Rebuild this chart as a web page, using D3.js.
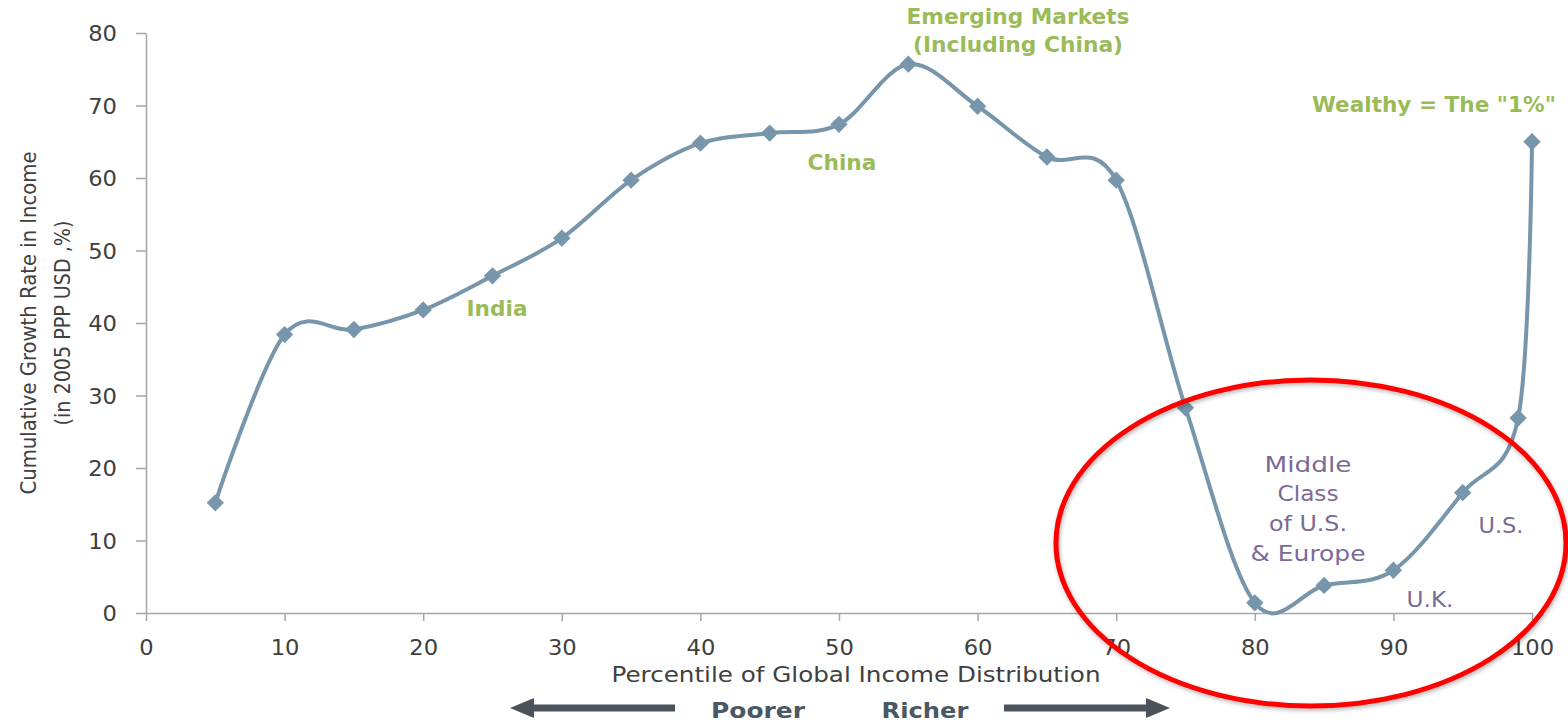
<!DOCTYPE html>
<html lang="en">
<head>
<meta charset="UTF-8">
<title>Global income growth by percentile</title>
<style>
  body { margin: 0; background: #fff; }
  text { font-family: "DejaVu Sans", Verdana, sans-serif; }
</style>
</head>
<body>
<script src="https://d3js.org/d3.v7.min.js"></script>
<script>
    // percentile of global income distribution, cumulative growth (%)
    var percentile = [5, 10, 15, 20, 25, 30, 35, 40, 45, 50, 55, 60, 65, 70, 75, 80, 85, 90, 95, 99, 100];
    var growth = [15.2, 38.4, 39.1, 41.8, 46.5, 51.7, 59.7, 64.8, 66.2, 67.4, 75.7, 69.9, 62.9, 59.7, 28.3, 1.4, 3.8, 5.9, 16.6, 26.9, 65];
    var xTicks = [0, 10, 20, 30, 40, 50, 60, 70, 80, 90, 100];
    var yTicks = [0, 10, 20, 30, 40, 50, 60, 70, 80];

    var width = 1568, height = 722;

    var x = d3.scaleLinear().domain([0, 100]).range([146, 1532]);
    var y = d3.scaleLinear().domain([0, 80]).range([613, 33]);

    var svg = d3.select('body').append('svg')
        .attr('width', width)
        .attr('height', height);

    var defs = svg.append('defs');
    var shadow = defs.append('filter').attr('id', 'shadow')
        .attr('x', '-10%').attr('y', '-10%').attr('width', '120%').attr('height', '120%');
    shadow.append('feDropShadow')
        .attr('dx', 1).attr('dy', 2).attr('stdDeviation', 2)
        .attr('flood-color', '#000').attr('flood-opacity', 0.3);

    var axisColor = '#a6a6a6';

    // y axis
    var yAxis = svg.append('g')
        .attr('transform', 'translate(' + x(0) + ',0)')
        .call(d3.axisLeft(y).tickValues(yTicks).tickSize(10).tickPadding(19).tickSizeOuter(0));
    // x axis
    var xAxis = svg.append('g')
        .attr('transform', 'translate(0,' + y(0) + ')')
        .call(d3.axisBottom(x).tickValues(xTicks).tickSize(8).tickPadding(18).tickSizeOuter(0));

    [xAxis, yAxis].forEach(function(a) {
        a.select('.domain').attr('stroke', axisColor).attr('stroke-width', 1.5);
        a.selectAll('.tick line').attr('stroke', axisColor).attr('stroke-width', 1.5);
        a.selectAll('.tick text')
            .attr('fill', '#404040')
            .style('font-size', '21px')
            .attr('textLength', function(d) { return String(d).length * 14.4; })
            .attr('lengthAdjust', 'spacingAndGlyphs');
    });
    yAxis.selectAll('.tick text').attr('dy', '0.36em');
    xAxis.selectAll('.tick text').attr('dy', '0.75em');

    // axis titles
    svg.append('text')
        .attr('transform', 'translate(36,323) rotate(-90)')
        .attr('text-anchor', 'middle')
        .attr('fill', '#404040')
        .style('font-size', '22px')
        .attr('textLength', 343).attr('lengthAdjust', 'spacingAndGlyphs')
        .text('Cumulative Growth Rate in Income');
    svg.append('text')
        .attr('transform', 'translate(70,323) rotate(-90)')
        .attr('text-anchor', 'middle')
        .attr('fill', '#404040')
        .style('font-size', '22px')
        .attr('textLength', 205).attr('lengthAdjust', 'spacingAndGlyphs')
        .text('(in 2005 PPP USD ,%)');
    svg.append('text')
        .attr('x', 856).attr('y', 682)
        .attr('text-anchor', 'middle')
        .attr('fill', '#404040')
        .style('font-size', '21px')
        .attr('textLength', 489).attr('lengthAdjust', 'spacingAndGlyphs')
        .text('Percentile of Global Income Distribution');

    // poorer / richer arrows
    var arrowColor = '#4b545c';
    function arrow(x1, x2, yy) {
        var dir = x2 > x1 ? 1 : -1;
        var head = 24;
        svg.append('line')
            .attr('x1', x1).attr('y1', yy)
            .attr('x2', x2 - dir * head + dir * 2).attr('y2', yy)
            .attr('stroke', arrowColor).attr('stroke-width', 7);
        svg.append('path')
            .attr('d', 'M' + x2 + ',' + yy + 'L' + (x2 - dir * head) + ',' + (yy - 10) +
                       'L' + (x2 - dir * head) + ',' + (yy + 10) + 'Z')
            .attr('fill', arrowColor);
    }
    arrow(675, 510, 708);
    arrow(1004, 1170, 708);
    svg.append('text').attr('x', 758).attr('y', 718).attr('text-anchor', 'middle')
        .attr('fill', '#4a5866').style('font-size', '22px').style('font-weight', 'bold')
        .attr('textLength', 94).attr('lengthAdjust', 'spacingAndGlyphs')
        .text('Poorer');
    svg.append('text').attr('x', 925).attr('y', 718).attr('text-anchor', 'middle')
        .attr('fill', '#4a5866').style('font-size', '22px').style('font-weight', 'bold')
        .attr('textLength', 87).attr('lengthAdjust', 'spacingAndGlyphs')
        .text('Richer');

    // series line
    var points = percentile.map(function(p, i) { return [p, growth[i]]; });
    var line = d3.line()
        .x(function(d) { return x(d[0]); })
        .y(function(d) { return y(d[1]); })
        .curve(d3.curveCardinal.tension(0));

    var lineColor = '#7796ab';
    svg.append('path')
        .datum(points)
        .attr('d', line)
        .attr('fill', 'none')
        .attr('stroke', lineColor)
        .attr('stroke-width', 4);

    svg.append('g').selectAll('path')
        .data(points)
      .enter().append('path')
        .attr('d', d3.symbol().type(d3.symbolSquare).size(150))
        .attr('transform', function(d) { return 'translate(' + x(d[0]) + ',' + y(d[1]) + ') rotate(45)'; })
        .attr('fill', lineColor);

    // annotations
    var green = '#9bbb59', purple = '#7b6a96';
    var notes = [
        {t: 'India', x: 497, y: 316, w: 61, c: green, b: true},
        {t: 'China', x: 842, y: 170, w: 69, c: green, b: true},
        {t: 'Emerging Markets', x: 1018, y: 24, w: 223, c: green, b: true},
        {t: '(Including China)', x: 1018, y: 52, w: 210, c: green, b: true},
        {t: 'Wealthy = The "1%"', x: 1434, y: 112, w: 244, c: green, b: true},
        {t: 'Middle', x: 1308, y: 472, w: 87, c: purple},
        {t: 'Class', x: 1308, y: 501, w: 61, c: purple},
        {t: 'of U.S.', x: 1308, y: 531, w: 78, c: purple},
        {t: '& Europe', x: 1308, y: 561, w: 115, c: purple},
        {t: 'U.S.', x: 1501, y: 533, w: 45, c: purple},
        {t: 'U.K.', x: 1430, y: 607, w: 47, c: purple}
    ];
    svg.append('g').selectAll('text')
        .data(notes)
      .enter().append('text')
        .attr('x', function(d) { return d.x; })
        .attr('y', function(d) { return d.y; })
        .attr('text-anchor', 'middle')
        .attr('fill', function(d) { return d.c; })
        .style('font-size', '21px')
        .style('font-weight', function(d) { return d.b ? 'bold' : 'normal'; })
        .attr('textLength', function(d) { return d.w; })
        .attr('lengthAdjust', 'spacingAndGlyphs')
        .text(function(d) { return d.t; });

    // red ellipse around the middle class dip
    svg.append('ellipse')
        .attr('cx', 1311).attr('cy', 543)
        .attr('rx', 255).attr('ry', 163)
        .attr('fill', 'none')
        .attr('stroke', '#ff0000')
        .attr('stroke-width', 5)
        .attr('filter', 'url(#shadow)');
</script>
</body>
</html>
